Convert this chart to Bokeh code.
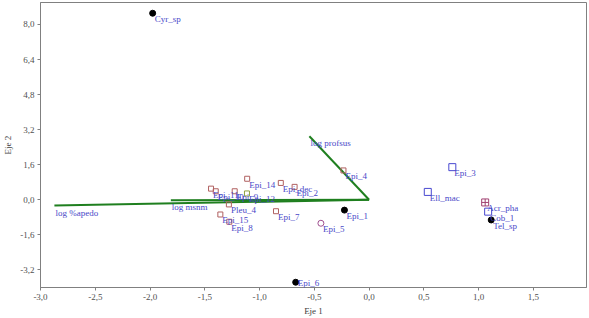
from bokeh.plotting import figure
from bokeh.models import FixedTicker, ColumnDataSource, LabelSet
from bokeh.embed import file_html
from bokeh.resources import INLINE

# --- data ---
dot_names = ["Cyr_sp", "Epi_6", "Tel_sp", "Epi_1"]
dot_x = [-1.976, -0.67, 1.115, -0.225]
dot_y = [8.51, -3.76, -0.92, -0.47]

sq_names = ["Epi_3", "Ell_mac", "Cob_1"]
sq_x = [0.76, 0.536, 1.087]
sq_y = [1.49, 0.36, -0.54]

cross_names = ["Acr_pha"]
cross_x = [1.06]
cross_y = [-0.12]

circ_names = ["Epi_5"]
circ_x = [-0.44]
circ_y = [-1.07]

rect_names = ["Epi_4", "Epi_dec", "Epi_2", "Epi_14", "Epi_7", "Pleu_4",
              "Epi_15", "Epi_8", "Epi_11", "Epi_10", "Epi_9"]
rect_x = [-0.234, -0.806, -0.68, -1.113, -0.85, -1.28, -1.358, -1.276, -1.443, -1.40, -1.227]
rect_y = [1.34, 0.77, 0.59, 0.96, -0.52, -0.21, -0.67, -1.0, 0.51, 0.39, 0.39]

gsq_names = ["Epi_12"]
gsq_x = [-1.115]
gsq_y = [0.29]

vec_names = ["log profsus", "log msnm", "log %apedo"]
vec_x = [-0.545, -1.81, -2.873]
vec_y = [2.9, -0.02, -0.26]

x_ticks = [-3.0, -2.5, -2.0, -1.5, -1.0, -0.5, 0.0, 0.5, 1.0, 1.5]
y_ticks = [-3.2, -1.6, 0.0, 1.6, 3.2, 4.8, 6.4, 8.0]

FONT = "Liberation Serif"
LBL = "#4848c8"
GREEN = "#1f7f1f"

p = figure(width=589, height=318, x_range=(-3.0, 1.985), y_range=(-4.0, 9.0),
           output_backend="svg", toolbar_location=None,
           min_border_left=38, min_border_right=3, min_border_top=2, min_border_bottom=28)
p.background_fill_color = "white"
p.border_fill_color = "white"
p.outline_line_color = "#808080"
p.outline_line_width = 1
p.xgrid.visible = False
p.ygrid.visible = False

for ax in (p.xaxis[0], p.yaxis[0]):
    ax.axis_line_color = "#808080"
    ax.major_tick_line_color = "#808080"
    ax.minor_tick_line_color = None
    ax.major_tick_out = 3
    ax.major_tick_in = 0
    ax.major_label_text_font = FONT
    ax.major_label_text_font_size = "9px"
    ax.major_label_text_color = "#505050"
    ax.axis_label_text_font = FONT
    ax.axis_label_text_font_size = "9px"
    ax.axis_label_text_font_style = "normal"
    ax.axis_label_text_color = "#404040"
    ax.major_label_standoff = 3

p.xaxis.ticker = FixedTicker(ticks=x_ticks)
p.yaxis.ticker = FixedTicker(ticks=y_ticks)
p.xaxis.major_label_overrides = {t: f"{t:.1f}".replace(".", ",") for t in x_ticks}
p.yaxis.major_label_overrides = {t: f"{t:.1f}".replace(".", ",") for t in y_ticks}
p.xaxis.axis_label = "Eje 1"
p.yaxis.axis_label = "Eje 2"
p.xaxis.axis_label_standoff = 3
p.yaxis.axis_label_standoff = 4

# vectors
vsrc = ColumnDataSource(dict(x0=[0.0] * len(vec_x), y0=[0.0] * len(vec_y), x1=vec_x, y1=vec_y, name=vec_names))
p.segment("x0", "y0", "x1", "y1", source=vsrc, line_color=GREEN, line_width=2)
p.add_layout(LabelSet(x="x1", y="y1", text="name", source=vsrc, text_font=FONT, text_font_size="9px",
                      text_color=LBL, text_baseline="top", x_offset=1, y_offset=-2))

def labels(xs, ys, names, dy=-1):
    src = ColumnDataSource(dict(x=xs, y=ys, name=names))
    p.add_layout(LabelSet(x="x", y="y", text="name", source=src, text_font=FONT, text_font_size="9px",
                          text_color=LBL, text_baseline="top", x_offset=2, y_offset=dy))

p.scatter(rect_x, rect_y, marker="square", size=5, fill_color=None, line_color="#b06060", line_width=1)
p.scatter(gsq_x, gsq_y, marker="square", size=5, fill_color=None, line_color="#90a040", line_width=1)
p.scatter(sq_x, sq_y, marker="square", size=7, fill_color=None, line_color="#4848d0", line_width=1)
p.scatter(cross_x, cross_y, marker="square_cross", size=7, fill_color=None, line_color="#a04070", line_width=1)
p.scatter(circ_x, circ_y, marker="circle", size=6, fill_color=None, line_color="#a05090", line_width=1)
p.scatter(dot_x, dot_y, marker="circle", size=6, fill_color="black", line_color="black")

labels(rect_x, rect_y, rect_names)
labels(gsq_x, gsq_y, gsq_names)
labels(sq_x, sq_y, sq_names)
labels(cross_x, cross_y, cross_names)
labels(circ_x, circ_y, circ_names)
labels(dot_x[:1] + dot_x[2:], dot_y[:1] + dot_y[2:], dot_names[:1] + dot_names[2:])
labels(dot_x[1:2], dot_y[1:2], dot_names[1:2], dy=4)

open("out.html", "w").write(file_html(p, INLINE))
